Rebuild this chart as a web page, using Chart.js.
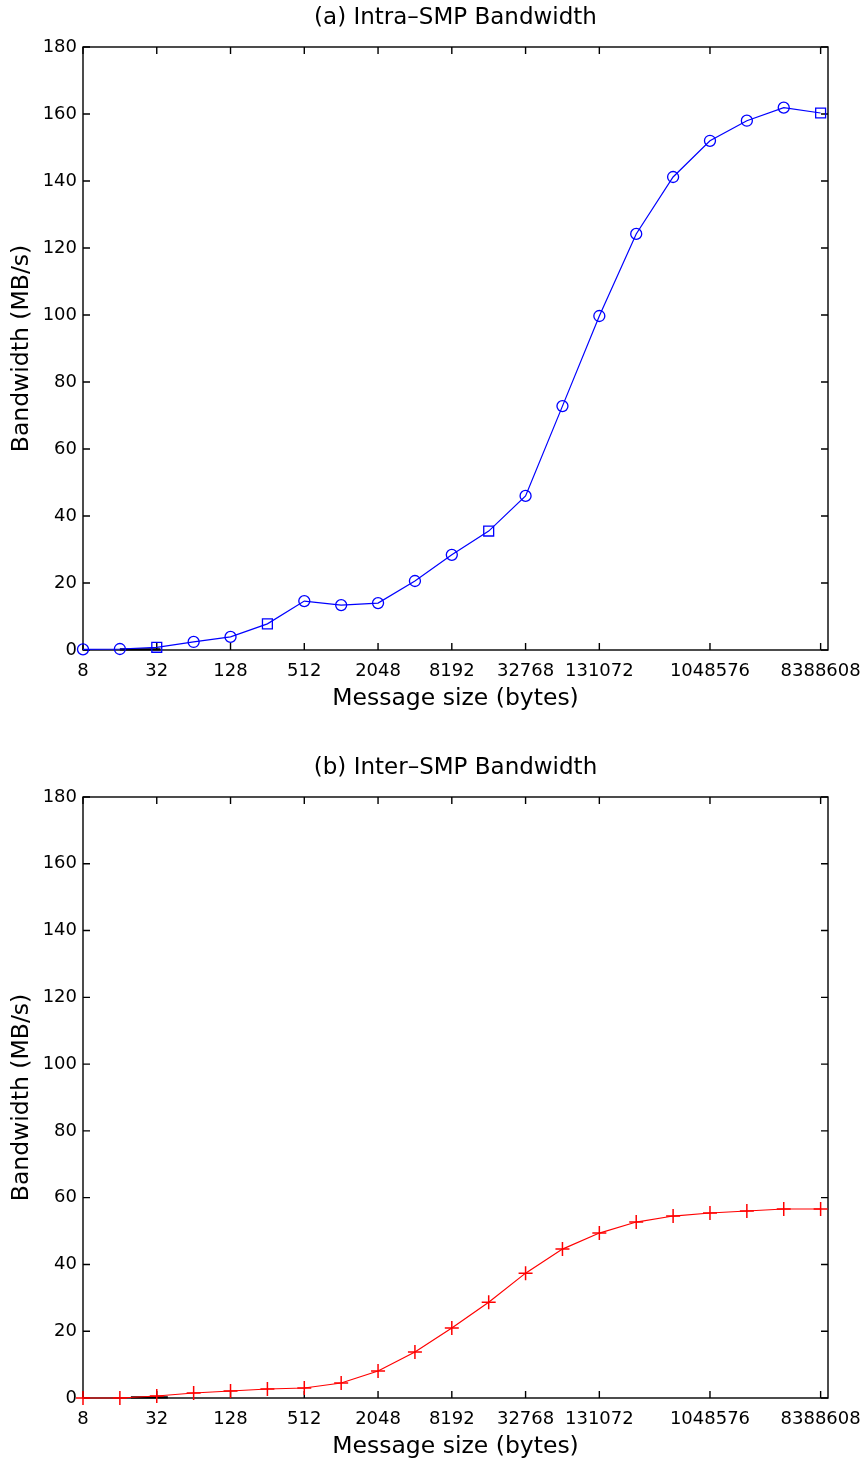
<!DOCTYPE html>
<html>
<head>
<meta charset="utf-8">
<script src="https://cdn.jsdelivr.net/npm/chart.js@4/dist/chart.umd.min.js"></script>
<style>
  html, body { margin: 0; padding: 0; background: #fff; overflow: hidden; }
  #c1 { position: absolute; left: 0; top: 0; }
  #c2 { position: absolute; left: 0; top: 750px; }
</style>
</head>
<body>
<canvas id="c1" width="866" height="713"></canvas>
<canvas id="c2" width="866" height="711"></canvas>
<script>
// Message sizes as powers of two: 2^3 (8 bytes) ... 2^23 (8388608 bytes)
const exponents = [3,4,5,6,7,8,9,10,11,12,13,14,15,16,17,18,19,20,21,22,23];
// x tick labels shown on the axis
const tickExponents = [3,5,7,9,11,13,15,17,20,23];
const tickLabels = ['8','32','128','512','2048','8192','32768','131072','1048576','8388608'];
const yTicks = [0,20,40,60,80,100,120,140,160,180];

// (a) Intra-SMP bandwidth (MB/s)
const intraBW = [0.2, 0.3, 0.8, 2.4, 3.9, 7.8, 14.6, 13.4, 14.0, 20.6, 28.4, 35.5, 46.0, 72.8, 99.7, 124.2, 141.2, 152.0, 158.0, 161.9, 160.3];
const intraMarkers = ['circle','circle','rect','circle','circle','rect','circle','circle','circle','circle','circle','rect','circle','circle','circle','circle','circle','circle','circle','circle','rect'];

// (b) Inter-SMP bandwidth (MB/s)
const interBW = [0.0, 0.0, 0.6, 1.5, 2.1, 2.7, 3.0, 4.5, 8.1, 13.8, 21.0, 28.7, 37.4, 44.6, 49.4, 52.7, 54.5, 55.4, 56.0, 56.6, 56.6];

// short dark trace visible near the baseline in both panels
const darkTraceA = {x: [4.0, 5.1], y: [0.2, 0.2]};
const darkTraceB = {x: [4.3, 5.3], y: [0.2, 0.2]};

const titles = ['(a) Intra\u2013SMP Bandwidth', '(b) Inter\u2013SMP Bandwidth'];
const xTitle = 'Message size (bytes)';
const yTitle = 'Bandwidth (MB/s)';

const FONT = "'DejaVu Sans', 'Liberation Sans', sans-serif";

function pts(xs, ys) { return xs.map((x, i) => ({x: x, y: ys[i]})); }

const frameTicks = {
  id: 'frameTicks',
  beforeDatasetsDraw(chart) {
    const ctx = chart.ctx, a = chart.chartArea;
    const xs = chart.scales.x, ys = chart.scales.y;
    const L = 7;
    ctx.save();
    ctx.strokeStyle = '#000';
    ctx.lineWidth = 1.4;
    ctx.strokeRect(a.left, a.top, a.right - a.left, a.bottom - a.top);
    ctx.beginPath();
    xs.ticks.forEach(t => {
      const px = xs.getPixelForValue(t.value);
      ctx.moveTo(px, a.bottom); ctx.lineTo(px, a.bottom - L);
      ctx.moveTo(px, a.top); ctx.lineTo(px, a.top + L);
    });
    ys.ticks.forEach(t => {
      const py = ys.getPixelForValue(t.value);
      ctx.moveTo(a.left, py); ctx.lineTo(a.left + L, py);
      ctx.moveTo(a.right, py); ctx.lineTo(a.right - L, py);
    });
    ctx.stroke();
    ctx.restore();
  }
};

function makeChart(id, title, datasets, xAxisHeight, xTitlePad) {
  return new Chart(document.getElementById(id), {
    type: 'line',
    data: { datasets: datasets },
    plugins: [frameTicks],
    options: {
      responsive: false,
      animation: false,
      devicePixelRatio: 1,
      layout: { padding: { left: 0, right: 38, top: 0, bottom: 0 } },
      plugins: {
        legend: { display: false },
        tooltip: { enabled: false },
        title: {
          display: true,
          fullSize: false,
          text: title,
          color: '#000',
          font: { family: FONT, size: 23, weight: 'normal', lineHeight: 1.2 },
          padding: { top: 4, bottom: 15.4 }
        }
      },
      scales: {
        x: {
          type: 'linear',
          min: 3,
          max: 23.2,
          afterBuildTicks(scale) {
            scale.ticks = tickExponents.map(v => ({ value: v }));
          },
          afterFit(scale) {
            scale.height = xAxisHeight;
            scale.paddingLeft = 0;
            scale.paddingRight = 0;
          },
          grid: { display: false, drawTicks: false },
          border: { display: false },
          ticks: {
            autoSkip: false,
            maxRotation: 0,
            padding: 11,
            color: '#000',
            font: { family: FONT, size: 18 },
            callback(value) {
              const i = tickExponents.indexOf(value);
              return i >= 0 ? tickLabels[i] : '';
            }
          },
          title: {
            display: true,
            text: xTitle,
            color: '#000',
            font: { family: FONT, size: 23.5 },
            padding: { top: xTitlePad, bottom: 0 }
          }
        },
        y: {
          type: 'linear',
          min: 0,
          max: 180,
          afterBuildTicks(scale) {
            scale.ticks = yTicks.map(v => ({ value: v }));
          },
          afterFit(scale) { scale.width = 83; },
          grid: { display: false, drawTicks: false },
          border: { display: false },
          ticks: {
            padding: 6,
            color: '#000',
            font: { family: FONT, size: 18 }
          },
          title: {
            display: true,
            text: yTitle,
            color: '#000',
            font: { family: FONT, size: 23.5 },
            padding: { top: 8, bottom: 0 }
          }
        }
      }
    }
  });
}

makeChart('c1', titles[0], [
  {
    data: pts(darkTraceA.x, darkTraceA.y),
    borderColor: '#000', borderWidth: 2.2, pointRadius: 0, tension: 0, order: 2, clip: false
  },
  {
    data: pts(exponents, intraBW),
    borderColor: '#0000ff',
    borderWidth: 1.2,
    tension: 0,
    clip: false,
    pointStyle: intraMarkers,
    pointRadius: intraMarkers.map(m => m === 'rect' ? 7 : 5.5),
    pointBorderColor: '#0000ff',
    pointBackgroundColor: 'rgba(0,0,0,0)',
    pointBorderWidth: 1.3,
    order: 1
  }
], 63, 2);

makeChart('c2', titles[1], [
  {
    data: pts(darkTraceB.x, darkTraceB.y),
    borderColor: '#000', borderWidth: 2.2, pointRadius: 0, tension: 0, order: 2, clip: false
  },
  {
    data: pts(exponents, interBW),
    borderColor: '#ff0000',
    borderWidth: 1.2,
    tension: 0,
    clip: false,
    pointStyle: 'cross',
    pointRadius: 7,
    pointBorderColor: '#ff0000',
    pointBorderWidth: 1.5,
    order: 1
  }
], 63, 2);
</script>
</body>
</html>
